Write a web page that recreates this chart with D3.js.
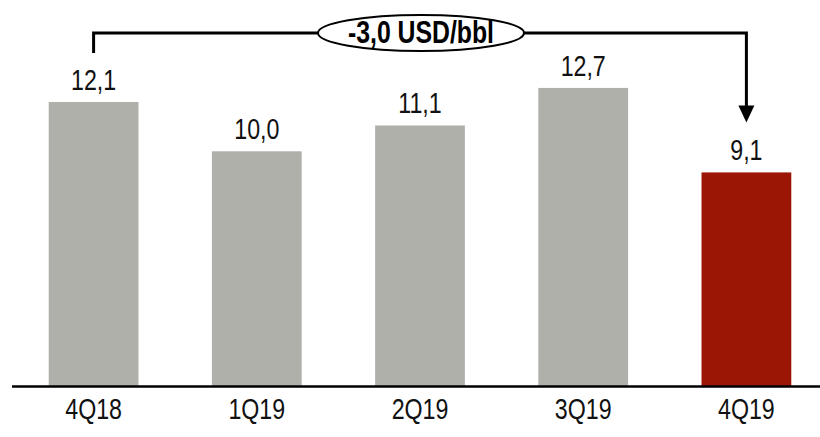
<!DOCTYPE html>
<html><head><meta charset="utf-8">
<script src="https://cdn.jsdelivr.net/npm/d3@7"></script>
<style>
body{margin:0;background:#fff;}
text{font-family:"Liberation Sans Narrow","Arial Narrow","Liberation Sans",Arial,sans-serif;}
</style></head>
<body><svg id="c" width="820" height="437"></svg>
<script>
const categories = ["4Q18","1Q19","2Q19","3Q19","4Q19"];
const values = [12.1,10.0,11.1,12.7,9.1];
const valueLabels = ["12,1","10,0","11,1","12,7","9,1"];
const highlight = ["4Q19"];
const bracketLabel = "-3,0 USD/bbl";

const svg = d3.select("#c");
const x = d3.scaleBand().domain(categories).range([12,828]).paddingInner(0.45).paddingOuter(0.225);
const y = d3.scaleLinear().domain([0,12.1]).range([386,102]);
const SX = 0.8;

svg.selectAll("rect.bar").data(categories).enter().append("rect")
  .attr("class","bar")
  .attr("x",d=>x(d)).attr("width",x.bandwidth())
  .attr("y",(d,i)=>y(values[i])).attr("height",(d,i)=>y(0)-y(values[i]))
  .attr("fill",d=>highlight.includes(d)?"#9c1606":"#b0b0aa");

svg.append("line").attr("x1",12).attr("x2",820).attr("y1",y(0)+0.5).attr("y2",y(0)+0.5)
  .attr("stroke","#000").attr("stroke-width",2.5);

svg.selectAll("text.val").data(categories).enter().append("text")
  .attr("class","val")
  .attr("transform",(d,i)=>`translate(${x(d)+x.bandwidth()/2},${y(values[i])-12}) scale(${SX},1)`)
  .attr("text-anchor","middle").attr("font-size",29).attr("fill","#111")
  .text((d,i)=>valueLabels[i]);

svg.selectAll("text.cat").data(categories).enter().append("text")
  .attr("class","cat")
  .attr("transform",d=>`translate(${x(d)+x.bandwidth()/2},419) scale(${SX},1)`)
  .attr("text-anchor","middle").attr("font-size",29).attr("fill","#111")
  .text(d=>d);

// bracket
const x0 = x(categories[0])+x.bandwidth()/2;
const x1 = x(categories[4])+x.bandwidth()/2;
const by = 33;
const tipY = y(values[4]) - 50;
svg.append("path").attr("d",`M${x0},${y(values[0])-49}V${by}H${x1}V${tipY-14}`)
  .attr("fill","none").attr("stroke","#000").attr("stroke-width",3);
svg.append("path").attr("d",`M${x1-8},${tipY-17}L${x1+8},${tipY-17}L${x1},${tipY}Z`).attr("fill","#000");

const cx = x(categories[2])+x.bandwidth()/2 + 1;
svg.append("ellipse").attr("cx",cx).attr("cy",by).attr("rx",103).attr("ry",18)
  .attr("fill","#fff").attr("stroke","#000").attr("stroke-width",2);
svg.append("text").attr("transform",`translate(${cx},${by+10}) scale(${SX},1)`).attr("text-anchor","middle")
  .attr("font-size",31).attr("font-weight","bold").attr("fill","#000").text(bracketLabel);
</script></body></html>
